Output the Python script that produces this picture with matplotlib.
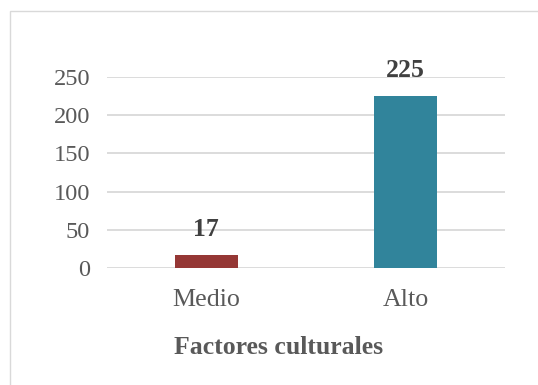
import matplotlib
matplotlib.use("Agg")
import matplotlib.pyplot as plt
from matplotlib.patches import Rectangle

categories = ["Medio", "Alto"]
values = [17, 225]
bar_colors = ["#953735", "#31849B"]
y_ticks = [0, 50, 100, 150, 200, 250]
x_title = "Factores culturales"

plt.rcParams["font.family"] = ["Liberation Serif", "DejaVu Serif"]

W, H = 538, 385
fig = plt.figure(figsize=(W / 100, H / 100), dpi=100)
fig.patch.set_facecolor("white")

# chart-area border (extends past the right and bottom edges)
fig.patches.append(Rectangle((10 / W, -0.1), 1.2, (H - 11) / H + 0.1,
                             transform=fig.transFigure, fill=False,
                             edgecolor="#D9D9D9", linewidth=1.0))

ax = fig.add_axes([106.7 / W, (H - 268.3) / H, (505.3 - 106.7) / W, (268.3 - 76.7) / H])
x = list(range(len(categories)))
bars = ax.bar(x, values, width=0.316, color=bar_colors, zorder=3)
ax.set_xlim(-0.5, len(categories) - 0.5)
ax.set_ylim(0, 250)
ax.set_yticks(y_ticks)
ax.set_yticklabels([str(t) for t in y_ticks])
ax.set_xticks(x)
ax.set_xticklabels(categories)

for s in ax.spines.values():
    s.set_visible(False)
ax.grid(axis="y", color="#D9D9D9", linewidth=1.3, zorder=0)
ax.tick_params(axis="both", length=0, colors="#595959")
ax.tick_params(axis="y", pad=12, labelsize=17.6)
ax.tick_params(axis="x", pad=15, labelsize=18.7)

for b, v in zip(bars, values):
    ax.annotate(str(v), (b.get_x() + b.get_width() / 2, v),
                xytext=(0, 18.5), textcoords="offset points",
                ha="center", va="center", fontsize=18.5, fontweight="bold",
                color="#404040")

fig.text(279 / W, 1 - 347 / H, x_title, ha="center", va="center",
         fontsize=18.5, fontweight="bold", color="#595959")

fig.savefig("out.png", dpi=100)
